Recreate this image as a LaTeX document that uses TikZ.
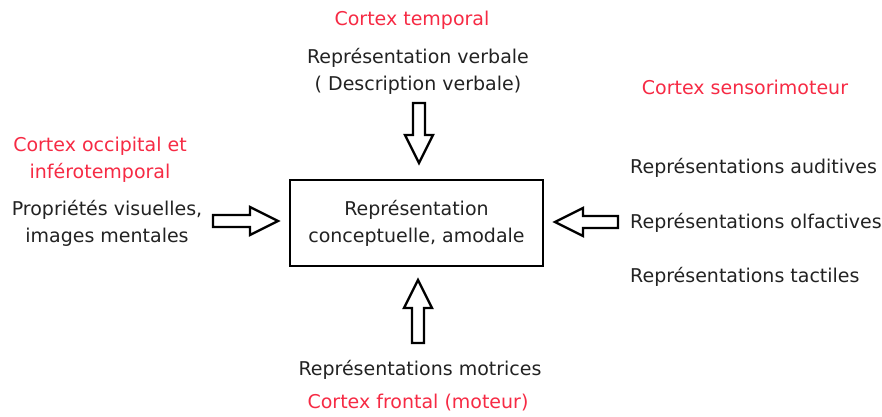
\documentclass[tikz,border=0pt]{standalone}
\usepackage{fontspec}
\setmainfont{DejaVu Sans}
\usetikzlibrary{calc, positioning}

\definecolor{cortexred}{RGB}{246,42,68}
\definecolor{txtgray}{RGB}{34,34,34}

\tikzset{
  txt/.style={font=\fontsize{19}{27}\selectfont, text=txtgray, align=center, inner sep=0pt},
  area/.style={txt, text=cortexred},
  concept/.style={draw, line width=2.5pt, minimum width=253pt, minimum height=86pt, txt},
  hollow/.style={draw=black, line width=2.3pt, fill=white, line join=miter},
}

% hollow block arrow from #1 to #2
\def\shaftw{6pt}
\def\headw{14pt}
\def\headlen{28pt}
\newcommand{\hollowarrow}[2]{%
  \draw[hollow] ($(#1)!\shaftw!90:(#2)$)
    -- ($($(#2)!\headlen!(#1)$)!\shaftw!90:(#2)$)
    -- ($($(#2)!\headlen!(#1)$)!\headw!90:(#2)$)
    -- (#2)
    -- ($($(#2)!\headlen!(#1)$)!\headw!-90:(#2)$)
    -- ($($(#2)!\headlen!(#1)$)!\shaftw!-90:(#2)$)
    -- ($(#1)!\shaftw!-90:(#2)$) -- cycle;}

\begin{document}
\begin{tikzpicture}[x=1pt, y=-1pt]
\useasboundingbox (0,0) rectangle (882,416);

\node[concept] (amodal) at (416.5,223) {Représentation\\conceptuelle, amodale};

% top
\node[area] (temporal) at (412,20) {Cortex temporal};
\node[txt] (verbal) at (418,71.5) {Représentation verbale\\( Description verbale)};
\coordinate (verbalOut) at (419,103);
\coordinate (verbalIn) at (419,163);
\hollowarrow{verbalOut}{verbalIn}

% bottom
\node[txt] (motor) at (420,370) {Représentations motrices};
\node[area] (frontal) at (418,403) {Cortex frontal (moteur)};
\coordinate (motorOut) at (418,343);
\coordinate (motorIn) at (418,280);
\hollowarrow{motorOut}{motorIn}

% left
\node[area] (occipital) at (100,159.5) {Cortex occipital et\\inférotemporal};
\node[txt] (visual) at (107,223) {Propriétés visuelles,\\images mentales};
\coordinate (visualOut) at (213,221);
\coordinate (visualIn) at (278,221);
\hollowarrow{visualOut}{visualIn}

% right
\node[area] (sensori) at (745,87) {Cortex sensorimoteur};
\node[txt, anchor=west] (auditory) at (630,168) {Représentations auditives};
\node[txt, anchor=west] (olfactory) at (630,223) {Représentations olfactives};
\node[txt, anchor=west] (tactile) at (630,277) {Représentations tactiles};
\coordinate (senseOut) at (618,222);
\coordinate (senseIn) at (555,222);
\hollowarrow{senseOut}{senseIn}
\end{tikzpicture}
\end{document}
